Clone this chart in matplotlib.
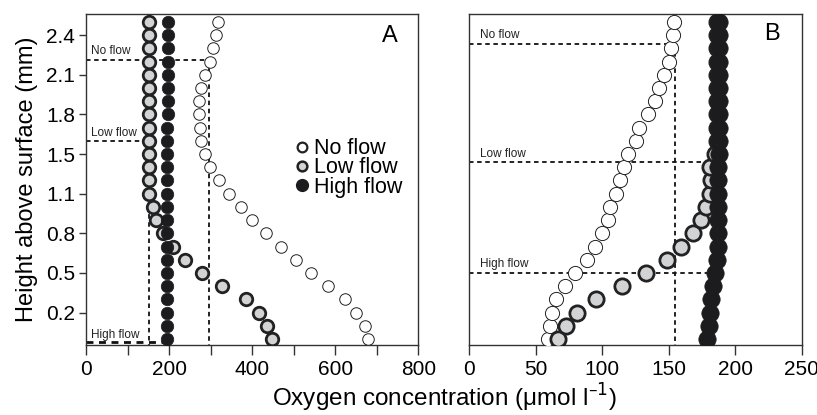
import matplotlib.pyplot as plt
from matplotlib.lines import Line2D

plt.rcParams['font.family'] = ['Liberation Sans', 'DejaVu Sans']

# measurement rows (bottom to top), every 0.1 mm
heights = [0.0, 0.1, 0.2, 0.3, 0.4, 0.5, 0.6, 0.7, 0.8, 0.9, 1.0, 1.1, 1.2,
           1.3, 1.4, 1.5, 1.6, 1.7, 1.8, 1.9, 2.0, 2.1, 2.2, 2.3, 2.4]
ytick_pos = [0.2, 0.5, 0.8, 1.1, 1.4, 1.7, 2.0, 2.3]
ytick_labels = ['0.2', '0.5', '0.8', '1.1', '1.5', '1.8', '2.1', '2.4']

# panel A
a_noflow = [679, 671, 651, 623, 582, 541, 505, 468, 432, 400, 372, 344, 319,
            298, 286, 276, 274, 272, 272, 276, 286, 298, 305, 312, 318]
a_lowflow = [448, 436, 416, 384, 328, 278, 238, 208, 184, 168, 160, 151, 151,
             151, 151, 151, 151, 151, 151, 151, 151, 151, 151, 151, 151]
a_highflow = [194, 194, 194, 194, 194, 194, 194, 194, 194, 195, 195, 195, 195,
              195, 195, 195, 195, 197, 197, 197, 197, 197, 197, 197, 197]

# panel B
b_noflow = [59.5, 60.5, 62.5, 65.5, 72, 79.5, 88.5, 94.5, 99.5, 104, 106, 110,
            113, 116.5, 119, 125, 128, 134.5, 139.5, 143, 146.5, 150, 151.5,
            153.5, 154]
b_lowflow = [67, 73, 81, 95, 115, 133, 149, 159, 168, 174, 178, 181, 182,
             181, 185, 186, 186, 186, 186, 186, 186, 186, 186, 186, 186]
b_highflow = [179, 180, 181, 182, 183, 185, 186, 187, 187, 187, 187, 187, 187,
              187, 188, 188, 188, 188, 188, 188, 188, 188, 188, 188, 188]

# boundary-layer thickness markers: (label, height, x where the dashed line stops, vertical?)
a_bl = [('No flow', 2.11, 295, True), ('Low flow', 1.495, 152, True),
        ('High flow', -0.025, 185, False)]
a_label_y = [2.18, 1.56, 0.03]
b_bl = [('No flow', 2.23, 155, True), ('Low flow', 1.343, 181, False),
        ('High flow', 0.50, 180, False)]
b_label_y = [2.30, 1.40, 0.57]

GRAY = '#d2d3d5'
DARK = '#1c1c1e'
EDGE = '#222222'

fig = plt.figure(figsize=(8.17, 4.15), dpi=100)
axA = fig.add_axes([0.1056, 0.1687, 0.4064, 0.7976])
axB = fig.add_axes([0.5744, 0.1687, 0.4069, 0.7976])


def draw_panel(ax, noflow, lowflow, highflow, sizes):
    ms_no, ms_low, ms_high = sizes
    ax.plot(noflow, heights, 'o', ms=ms_no, mfc='white', mec=EDGE, mew=0.7,
            ls='none', zorder=3)
    ax.plot(lowflow, heights, 'o', ms=ms_low, mfc=GRAY, mec=EDGE, mew=2.0,
            ls='none', zorder=4)
    ax.plot(highflow, heights, 'o', ms=ms_high, mfc=DARK, mec=DARK, mew=0.5,
            ls='none', zorder=5)


def draw_bl(ax, bl, label_y, label_x):
    for (name, h, xend, vert), ly in zip(bl, label_y):
        lw = 2.0 if h < 0 else 1.3
        ax.plot([0, xend], [h, h], color='#111111', lw=lw, ls=(0, (2.5, 2)),
                zorder=2)
        if vert:
            ax.plot([xend, xend], [h, -0.045], color='#111111', lw=1.3,
                    ls=(0, (2.5, 2)), zorder=2)
        ax.text(label_x, ly, name, fontsize=8.5, va='center', ha='left',
                color='#222222')


draw_panel(axA, a_noflow, a_lowflow, a_highflow, (8.3, 9.0, 9.0))
draw_panel(axB, b_noflow, b_lowflow, b_highflow, (10.2, 11.0, 12.5))
draw_bl(axA, a_bl, a_label_y, 12)
draw_bl(axB, b_bl, b_label_y, 8)

for ax in (axA, axB):
    ax.set_ylim(-0.045, 2.46)
    for s in ax.spines.values():
        s.set_color('#333333')
        s.set_linewidth(1.0)
    ax.tick_params(axis='x', direction='out', length=7, width=1,
                   labelsize=15, color='#333333', pad=4)

axA.set_xlim(0, 800)
axA.set_xticks([0, 200, 400, 600, 800])
axA.set_xticks([100, 300, 500, 700], minor=True)
axA.tick_params(axis='x', which='minor', direction='out', length=7, width=1,
                color='#333333')
axA.set_yticks(ytick_pos)
axA.set_yticklabels(ytick_labels)
axA.tick_params(axis='y', direction='out', length=5, width=1, labelsize=15,
                color='#333333', pad=3)
axA.set_ylabel('Height above surface (mm)', fontsize=17, labelpad=6)

axB.set_xlim(0, 250)
axB.set_xticks([0, 50, 100, 150, 200, 250])
axB.set_yticks([])

axA.text(0.915, 0.935, 'A', transform=axA.transAxes, fontsize=17,
         ha='center', va='center')
axB.text(0.91, 0.94, 'B', transform=axB.transAxes, fontsize=17,
         ha='center', va='center')

handles = [
    Line2D([], [], marker='o', ls='none', ms=7, mfc='white', mec=EDGE, mew=1.6),
    Line2D([], [], marker='o', ls='none', ms=7, mfc=GRAY, mec=EDGE, mew=1.8),
    Line2D([], [], marker='o', ls='none', ms=8.5, mfc=DARK, mec=DARK),
]
axA.legend(handles, ['No flow', 'Low flow', 'High flow'], loc='upper left',
           bbox_to_anchor=(0.635, 0.625), frameon=False, fontsize=15.5,
           handlelength=0.5, handletextpad=0.3, labelspacing=-0.08,
           borderpad=0, borderaxespad=0)

fig.text(0.5435, 0.042, 'Oxygen concentration (μmol l$^{\u2013 1}$)',
         fontsize=17.5, ha='center', va='center')

fig.savefig('out.png', dpi=100)
